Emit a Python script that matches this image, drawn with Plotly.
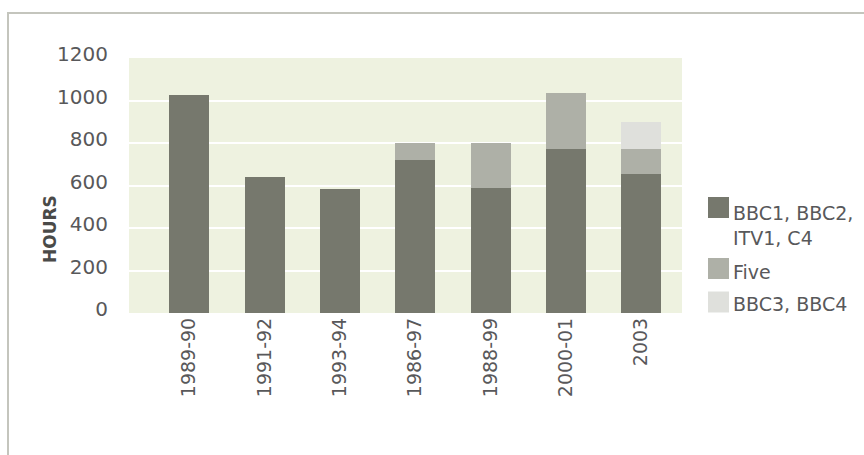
import plotly.graph_objects as go

categories = ["1989-90", "1991-92", "1993-94", "1986-97", "1988-99", "2000-01", "2003"]
series_names = ["BBC1, BBC2,<br>ITV1, C4", "Five", "BBC3, BBC4"]
main_channels = [1024, 638, 582, 719, 587, 770, 652]
five = [0, 0, 0, 83, 211, 263, 122]
bbc3_bbc4 = [0, 0, 0, 0, 0, 0, 126]
y_ticks = [0, 200, 400, 600, 800, 1000, 1200]

colors = ["#76786d", "#aeb0a7", "#dfe0dc"]
text_color = "#58585a"
FONT = "DejaVu Sans"

W, H = 864, 455
L, R, T, B = 129, 682, 58, 313  # plot area in pixels


def px_x(px):
    return (px - L) / (R - L)


def px_y(py):
    return (B - py) / (B - T)


fig = go.Figure()
for name, vals, col in zip(series_names, [main_channels, five, bbc3_bbc4], colors):
    fig.add_trace(go.Bar(x=categories, y=vals, name=name, marker=dict(color=col, line=dict(width=0)),
                         showlegend=False))

fig.update_layout(
    width=W, height=H,
    margin=dict(l=L, r=W - R, t=T, b=H - B, pad=0),
    barmode="stack", bargap=0.47,
    plot_bgcolor="#eef2e0", paper_bgcolor="white",
    font=dict(family=FONT, size=18, color=text_color),
)
fig.update_xaxes(type="category", range=[-0.8, 6.54], tickangle=-90, showgrid=False,
                 zeroline=False, showline=False, ticks="",
                 tickfont=dict(family=FONT, size=19, color=text_color))
fig.update_yaxes(range=[0, 1200], tickvals=y_ticks, showgrid=True, gridcolor="white", gridwidth=2,
                 zeroline=False, showline=False, ticks="", ticklabelstandoff=20, ticklabelshift=-4,
                 tickfont=dict(family=FONT, size=20, color=text_color))

# outer frame
fig.add_shape(type="rect", xref="paper", yref="paper",
              x0=px_x(8), x1=px_x(875), y0=px_y(13), y1=px_y(470),
              line=dict(color="#c4c5bd", width=2), fillcolor="rgba(0,0,0,0)", layer="below")

# y axis title
fig.add_annotation(text="<b>HOURS</b>", xref="paper", yref="paper", x=px_x(50), y=px_y(229),
                   textangle=-90, showarrow=False, xanchor="center", yanchor="middle",
                   font=dict(family=FONT, size=17, color="#4a4a48"))

# legend
swatch_centers = [207.5, 268.5, 302]
text_centers = [225, 271.5, 303.5]
for name, col, sc, tc in zip(series_names, colors, swatch_centers, text_centers):
    fig.add_shape(type="rect", xref="paper", yref="paper",
                  x0=px_x(708), x1=px_x(729), y0=px_y(sc - 10.5), y1=px_y(sc + 10.5),
                  line=dict(width=0), fillcolor=col)
    fig.add_annotation(text=name, xref="paper", yref="paper", x=px_x(731), y=px_y(tc),
                       showarrow=False, xanchor="left", yanchor="middle", align="left",
                       font=dict(family=FONT, size=19, color=text_color))

fig.write_html("out.html")
